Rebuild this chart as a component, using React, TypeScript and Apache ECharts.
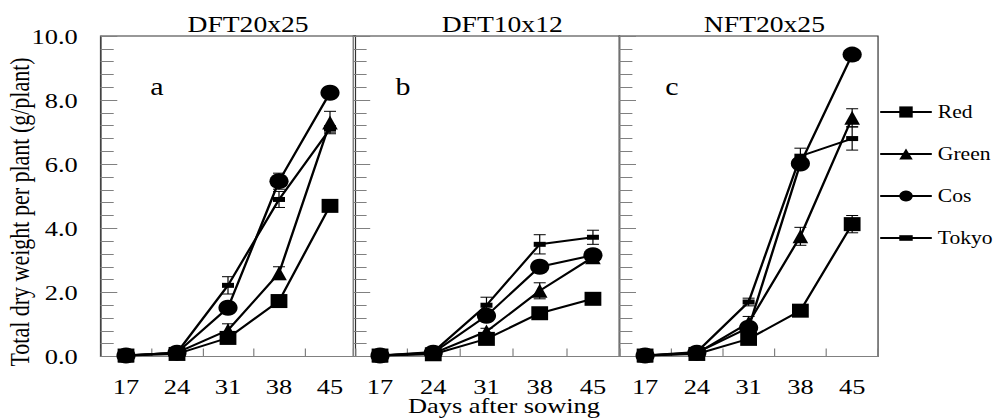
import React, { useEffect, useRef } from "react";
import * as echarts from "echarts";

// ---------- data ----------
const days = ["17", "24", "31", "38", "45"];
const panelTitles = ["DFT20x25", "DFT10x12", "NFT20x25"];
const panelLetters = ["a", "b", "c"];
const varieties = ["Red", "Green", "Cos", "Tokyo"];
const yTicks = [0, 2, 4, 6, 8, 10];

// Panel a: DFT20x25
const redA = [0.03, 0.08, 0.58, 1.73, 4.7];
const greenA = [0.03, 0.12, 0.82, 2.6, 7.3];
const cosA = [0.03, 0.12, 1.52, 5.47, 8.23];
const tokyoA = [0.03, 0.12, 2.22, 4.9, 7.1];
const redErrA = [0, 0, 0.1, 0.15, 0.15];
const greenErrA = [0, 0, 0.2, 0.2, 0.35];
const cosErrA = [0, 0, 0.1, 0.25, 0.1];
const tokyoErrA = [0, 0, 0.27, 0.25, 0.1];

// Panel b: DFT10x12
const redB = [0.03, 0.07, 0.55, 1.35, 1.8];
const greenB = [0.03, 0.1, 0.78, 2.05, 3.1];
const cosB = [0.03, 0.12, 1.27, 2.8, 3.16];
const tokyoB = [0.03, 0.14, 1.6, 3.5, 3.72];
const redErrB = [0, 0, 0.1, 0.1, 0.1];
const greenErrB = [0, 0, 0.1, 0.25, 0.15];
const cosErrB = [0, 0, 0.15, 0.15, 0.1];
const tokyoErrB = [0, 0, 0.25, 0.3, 0.22];

// Panel c: NFT20x25
const redC = [0.03, 0.08, 0.55, 1.43, 4.13];
const greenC = [0.03, 0.1, 1.05, 3.75, 7.45];
const cosC = [0.03, 0.12, 0.9, 6.02, 9.42];
const tokyoC = [0.03, 0.14, 1.7, 6.25, 6.8];
const redErrC = [0, 0, 0.1, 0.1, 0.27];
const greenErrC = [0, 0, 0.2, 0.28, 0.28];
const cosErrC = [0, 0, 0.1, 0.1, 0.1];
const tokyoErrC = [0, 0, 0.12, 0.25, 0.36];

const panelValues = [
  [redA, greenA, cosA, tokyoA],
  [redB, greenB, cosB, tokyoB],
  [redC, greenC, cosC, tokyoC],
];
const panelErrors = [
  [redErrA, greenErrA, cosErrA, tokyoErrA],
  [redErrB, greenErrB, cosErrB, tokyoErrB],
  [redErrC, greenErrC, cosErrC, tokyoErrC],
];

// ---------- styling / layout ----------
const STRETCH = 1.2; // the reference is horizontally stretched
const W = 996 / STRETCH;
const H = 418;
const FONT = '"Liberation Serif", "Times New Roman", serif';
const GRIDS = [
  { left: 83.75, width: 212.5 },
  { left: 294.5, width: 221.8 },
  { left: 516, width: 215.7 },
];
const GRID_TOP = 36;
const GRID_H = 320.5;
const TOKYO_SYMBOL = "path://M0,0M10,10M0,2.5h10v5h-10z";
const SYMBOLS = ["rect", "triangle", "circle", TOKYO_SYMBOL];
const SYMBOL_SIZES: any[] = [14, [13, 14], 16, 10];
const AXIS_GRAY = "#808080";

function buildOption() {
  const grid = GRIDS.map((g) => ({
    left: g.left,
    width: g.width,
    top: GRID_TOP,
    height: GRID_H,
    show: true,
    borderColor: "#333",
    borderWidth: 1,
  }));

  const xAxis = GRIDS.map((_, i) => ({
    type: "category",
    gridIndex: i,
    data: days,
    boundaryGap: true,
    axisLine: { show: true, lineStyle: { color: AXIS_GRAY, width: 1 } },
    axisTick: {
      show: true,
      inside: true,
      length: 8,
      interval: 0,
      lineStyle: { color: AXIS_GRAY },
    },
    axisLabel: {
      interval: 0,
      fontSize: 22,
      fontFamily: FONT,
      color: "#000",
      margin: 19,
    },
    splitLine: { show: false },
  }));

  const yAxis = GRIDS.map((_, i) => ({
    type: "value",
    gridIndex: i,
    min: yTicks[0],
    max: yTicks[yTicks.length - 1],
    interval: yTicks[1] - yTicks[0],
    axisLine: { show: true, lineStyle: { color: AXIS_GRAY, width: 1 } },
    axisTick: {
      show: true,
      inside: true,
      length: 14,
      lineStyle: { color: AXIS_GRAY },
    },
    minorTick: {
      show: true,
      splitNumber: 5,
      length: 11,
      lineStyle: { color: AXIS_GRAY },
    },
    axisLabel: {
      show: i === 0,
      formatter: (v: number) => v.toFixed(1),
      fontSize: 22,
      fontFamily: FONT,
      color: "#000",
      margin: 19,
    },
    splitLine: { show: false },
    minorSplitLine: { show: false },
  }));

  const series: any[] = [];
  // error bars
  panelErrors.forEach((errs, p) => {
    const data: any[] = [];
    errs.forEach((errArr, s) => {
      errArr.forEach((e, k) => {
        if (e > 0) data.push([k, panelValues[p][s][k], e]);
      });
    });
    series.push({
      type: "custom",
      xAxisIndex: p,
      yAxisIndex: p,
      data,
      z: 1,
      silent: true,
      encode: { x: 0, y: 1 },
      renderItem: (params: any, api: any) => {
        const x = api.value(0);
        const v = api.value(1);
        const e = api.value(2);
        const top = api.coord([x, v + e]);
        const bot = api.coord([x, v - e]);
        const hw = 5;
        const style = { stroke: "#000", lineWidth: 1 };
        return {
          type: "group",
          children: [
            { type: "line", shape: { x1: top[0], y1: top[1], x2: bot[0], y2: bot[1] }, style },
            { type: "line", shape: { x1: top[0] - hw, y1: top[1], x2: top[0] + hw, y2: top[1] }, style },
            { type: "line", shape: { x1: bot[0] - hw, y1: bot[1], x2: bot[0] + hw, y2: bot[1] }, style },
          ],
        };
      },
    });
  });

  panelValues.forEach((vals, p) => {
    vals.forEach((arr, s) => {
      series.push({
        type: "line",
        name: varieties[s],
        xAxisIndex: p,
        yAxisIndex: p,
        data: arr,
        symbol: SYMBOLS[s],
        symbolSize: SYMBOL_SIZES[s],
        showAllSymbol: true,
        clip: false,
        z: 2 + s,
        lineStyle: { color: "#000", width: 2 },
        itemStyle: { color: "#000", borderWidth: 0 },
        emphasis: { disabled: true },
      });
    });
  });

  const graphic: any[] = [];
  const titleX = [206.7, 418.5, 637];
  const letterX = [130.8, 335.8, 560];
  panelTitles.forEach((t, i) => {
    graphic.push({
      type: "text",
      x: titleX[i],
      y: 24,
      style: {
        text: t,
        fontSize: 23,
        fontFamily: FONT,
        fill: "#000",
        textAlign: "center",
        textVerticalAlign: "middle",
      },
    });
    graphic.push({
      type: "text",
      x: letterX[i],
      y: 86,
      style: {
        text: panelLetters[i],
        fontSize: 25,
        fontFamily: FONT,
        fill: "#000",
        textAlign: "center",
        textVerticalAlign: "middle",
      },
    });
  });
  graphic.push({
    type: "text",
    x: 420,
    y: 405,
    z: 100,
    style: {
      text: "Days after sowing",
      fontSize: 22,
      fontFamily: FONT,
      fill: "#000",
      textAlign: "center",
      textVerticalAlign: "middle",
    },
  });
  graphic.push({
    type: "text",
    x: 16.7,
    y: 212,
    rotation: Math.PI / 2,
    style: {
      text: "Total dry weight per plant (g/plant)",
      fontSize: 22,
      fontFamily: FONT,
      fill: "#000",
      textAlign: "center",
      textVerticalAlign: "middle",
    },
  });

  return {
    animation: false,
    backgroundColor: "#fff",
    grid,
    xAxis,
    yAxis,
    series,
    graphic,
    legend: {
      data: varieties,
      orient: "vertical",
      left: 732.5,
      top: 101,
      itemWidth: 43,
      itemHeight: 14,
      itemGap: 20,
      padding: 0,
      selectedMode: false,
      textStyle: {
        fontSize: 18,
        fontFamily: FONT,
        color: "#000",
        lineHeight: 22,
      },
    },
  };
}

export default function App() {
  const ref = useRef<HTMLDivElement>(null);
  useEffect(() => {
    if (!ref.current) return;
    const chart = echarts.init(ref.current, undefined, { renderer: "svg" });
    chart.setOption(buildOption() as any);
    return () => chart.dispose();
  }, []);
  return (
    <div
      style={{
        position: "absolute",
        left: 0,
        top: 0,
        width: 996,
        height: H,
        overflow: "hidden",
        background: "#fff",
      }}
    >
      <div
        ref={ref}
        style={{
          width: W,
          height: H,
          transform: `scaleX(${STRETCH})`,
          transformOrigin: "0 0",
        }}
      />
    </div>
  );
}
